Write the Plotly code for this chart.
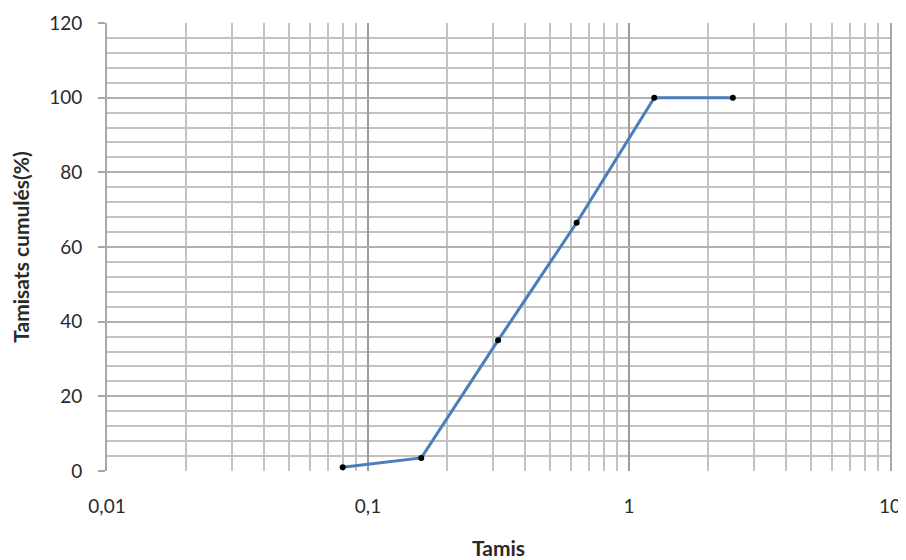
import plotly.graph_objects as go

tamis = [0.08, 0.16, 0.315, 0.63, 1.25, 2.5]
tamisats = [1, 3.5, 35, 66.5, 100, 100]
x_tickvals = [0.01, 0.1, 1, 10]
x_ticktext = ["0,01", "0,1", "1", "10"]
y_tickvals = [0, 20, 40, 60, 80, 100, 120]

fig = go.Figure()
fig.add_trace(go.Scatter(
    x=tamis, y=tamisats, mode="lines+markers",
    line=dict(color="#4a7ebb", width=3),
    marker=dict(color="black", size=6),
    showlegend=False,
))

tick_font = dict(family="Lato, sans-serif", size=19, color="#2a2a2a")
title_font = dict(family="Lato, sans-serif", size=21, color="#2a2a2a", weight="bold")

# page body has an 8px default margin, so the figure is shrunk by 8px
fig.update_layout(
    width=898, height=552,
    margin=dict(l=99, r=16, t=15, b=89),
    paper_bgcolor="white", plot_bgcolor="white",
    xaxis=dict(
        type="log", range=[-2, 1], automargin=False,
        tickvals=x_tickvals, ticktext=x_ticktext,
        showgrid=True, gridcolor="#9c9c9c", gridwidth=2,
        minor=dict(dtick="D1", showgrid=True, gridcolor="#c2c2c2", gridwidth=2),
        zeroline=False, showline=False,
        ticks="", ticklabelstandoff=22,
        tickfont=tick_font,
        title=dict(text="Tamis", standoff=26, font=title_font),
    ),
    yaxis=dict(
        range=[0, 120], automargin=False,
        tickvals=y_tickvals,
        showgrid=True, gridcolor="#b0b0b0", gridwidth=2,
        minor=dict(dtick=4, showgrid=True, gridcolor="#c2c2c2", gridwidth=2),
        zeroline=False, showline=True, mirror=True, linecolor="#a8a8a8", linewidth=2,
        ticks="outside", ticklen=7, tickcolor="#a8a8a8", tickwidth=2, ticklabelstandoff=12,
        tickfont=tick_font,
        title=dict(text="Tamisats cumulés(%)", standoff=20, font=title_font),
    ),
)

fig.write_html("out.html")
